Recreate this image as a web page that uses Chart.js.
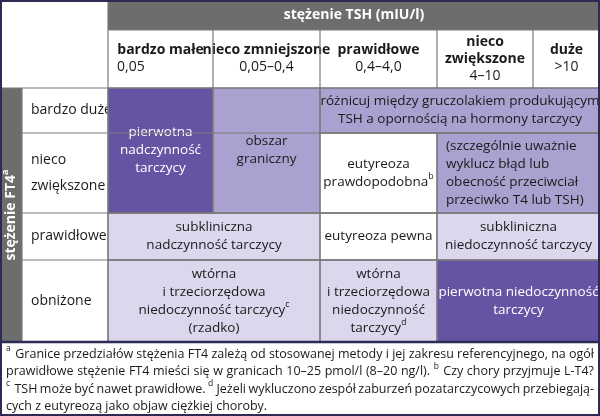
<!DOCTYPE html>
<html><head><meta charset="utf-8">
<script src="https://cdn.jsdelivr.net/npm/chart.js@4/dist/chart.umd.min.js"></script>
<style>html,body{margin:0;padding:0;background:#fff}#wrap{width:600px;height:416px}</style>
</head><body><div id="wrap"><canvas id="tbl"></canvas></div>
<script>
// dane tabeli (TSH x FT4)
const tshTitle = 'stężenie TSH (mIU/l)';
const ft4Title = 'stężenie FT4^a';
const tshCategories = [['*bardzo małe', '<0,05'], ['*nieco zmniejszone', '0,05–0,4'], ['*prawidłowe', '0,4–4,0'], ['*nieco', '*zwiększone', '4–10'], ['*duże', '>10']];
const ft4Categories = [['bardzo duże'], ['nieco', 'zwiększone'], ['prawidłowe'], ['obniżone']];
// komórki: [kol od, kol do, wiersz od, wiersz do, poziom, tekst]
const cellCols0 = [0, 1, 2, 2, 3, 0, 2, 3, 0, 2, 3];
const cellCols1 = [1, 2, 5, 3, 5, 2, 3, 5, 2, 3, 5];
const cellRows0 = [0, 0, 0, 1, 1, 2, 2, 2, 3, 3, 3];
const cellRows1 = [2, 2, 1, 2, 2, 3, 3, 3, 4, 4, 4];
const cellLevel = [3, 2, 2, 0, 2, 1, 0, 1, 1, 1, 3];
const cellText = [
  ['pierwotna', 'nadczynność', 'tarczycy'],
  ['obszar', 'graniczny'],
  ['różnicuj między gruczolakiem produkującym', 'TSH a opornością na hormony tarczycy'],
  ['eutyreoza', 'prawdopodobna^b'],
  ['<(szczególnie uważnie', '<wyklucz błąd lub', '<obecność przeciwciał', '<przeciwko T4 lub TSH)'],
  ['subkliniczna', 'nadczynność tarczycy'],
  ['eutyreoza pewna'],
  ['subkliniczna', 'niedoczynność tarczycy'],
  ['wtórna', 'i trzeciorzędowa', 'niedoczynność tarczycy^c', '(rzadko)'],
  ['wtórna', 'i trzeciorzędowa', 'niedoczynność', 'tarczycy^d'],
  ['pierwotna niedoczynność', 'tarczycy']
];
const footnotes = [
  '^a Granice przedziałów stężenia FT4 zależą od stosowanej metody i jej zakresu referencyjnego, na ogół',
  'prawidłowe stężenie FT4 mieści się w granicach 10–25 pmol/l (8–20 ng/l). ^b Czy chory przyjmuje L-T4?',
  '^c TSH może być nawet prawidłowe. ^d Jeżeli wykluczono zespół zaburzeń pozatarczycowych przebiegają-',
  'cych z eutyreozą jako objaw ciężkiej choroby.'
];

// układ (piksele w skali osi 0..600 / 0..416)
const colEdges = [108, 213, 320, 437, 533, 600];
const rowEdges = [88, 133, 213, 260, 342];
const levelFill = ['#ffffff', '#dcd7ec', '#aba1d0', '#6753a3'];
const levelInk = ['#1a1a1a', '#1a1a1a', '#1a1a1a', '#ffffff'];
const FONT = '"Liberation Sans Narrow", "Open Sans", sans-serif';

function richText(ctx, s, x, y, size, bold, align) {
  const parts = s.split(/\^(\w)/);
  const f = (sz) => (bold ? 'bold ' : '') + sz + 'px ' + FONT;
  let w = 0;
  parts.forEach((p, i) => { ctx.font = f(i % 2 ? size * 0.65 : size); w += ctx.measureText(p).width; });
  let cx = align === 'left' ? x : x - w / 2;
  ctx.textAlign = 'left';
  parts.forEach((p, i) => {
    const sup = i % 2 === 1;
    ctx.font = f(sup ? size * 0.65 : size);
    ctx.fillText(p, cx, sup ? y - size * 0.38 : y);
    cx += ctx.measureText(p).width;
  });
}

function lines(ctx, arr, x0, x1, y0, y1, size, color, lh) {
  const n = arr.length;
  const start = (y0 + y1) / 2 - (n - 1) * lh / 2;
  ctx.fillStyle = color;
  ctx.textBaseline = 'middle';
  arr.forEach((t, i) => {
    let bold = false, align = 'center', x = (x0 + x1) / 2;
    if (t[0] === '*') { bold = true; t = t.slice(1); }
    if (t[0] === '<') { align = 'left'; x = x0 + 9; t = t.slice(1); }
    richText(ctx, t, x, start + i * lh, size, bold, align);
  });
}

const tablePlugin = {
  id: 'tablePlugin',
  afterDraw(chart) {
    const ctx = chart.ctx, sx = chart.scales.x, sy = chart.scales.y;
    const X = (v) => sx.getPixelForValue(v), Y = (v) => sy.getPixelForValue(v);
    const rect = (x0, y0, x1, y1, fill) => { ctx.fillStyle = fill; ctx.fillRect(X(x0), Y(y0), X(x1) - X(x0), Y(y1) - Y(y0)); };
    const line = (x0, y0, x1, y1, c, w) => { ctx.strokeStyle = c; ctx.lineWidth = w; ctx.beginPath(); ctx.moveTo(X(x0), Y(y0)); ctx.lineTo(X(x1), Y(y1)); ctx.stroke(); };
    ctx.save();
    // nagłówki
    rect(108, 0, 600, 30, '#6d6d6d');
    lines(ctx, ['*' + tshTitle], X(108), X(600), Y(0), Y(30), 14, '#ffffff', 17);
    rect(0, 88, 22, 342, '#6d6d6d');
    ctx.save();
    ctx.translate(X(11), Y(215));
    ctx.rotate(-Math.PI / 2);
    lines(ctx, ['*' + ft4Title], -60, 60, 0, 0, 14, '#ffffff', 17);
    ctx.restore();
    tshCategories.forEach((c, i) => lines(ctx, c, X(colEdges[i]), X(colEdges[i + 1]), Y(30), Y(88), 14, '#1a1a1a', 17));
    ft4Categories.forEach((r, i) => lines(ctx, r.map(t => '<*' .slice(0, 0) + '<' + '*' + t).map(t => t.replace('<*', '<').replace(/^</, '<')), X(22), X(108), Y(rowEdges[i]), Y(rowEdges[i + 1]), 14, '#1a1a1a', 26));
    // komórki
    cellText.forEach((t, k) => {
      const x0 = colEdges[cellCols0[k]], x1 = colEdges[cellCols1[k]];
      const y0 = rowEdges[cellRows0[k]], y1 = rowEdges[cellRows1[k]];
      rect(x0, y0, x1, y1, levelFill[cellLevel[k]]);
      lines(ctx, t, X(x0), X(x1), Y(y0), Y(y1), 13.5, levelInk[cellLevel[k]], 18);
    });
    // siatka
    const g = '#7a7a7a';
    colEdges.slice(0, 5).forEach((x, i) => line(x, i ? 30 : 0, x, i ? 88 : 342, g, 1.2));
    line(22, 88, 22, 342, g, 1.2);
    line(108, 30, 600, 30, g, 1.2);
    rowEdges.forEach(y => line(y === 88 ? 0 : 22, y, 600, y, g, 1.2));
    cellText.forEach((t, k) => {
      const x0 = colEdges[cellCols0[k]], x1 = colEdges[cellCols1[k]];
      const y0 = rowEdges[cellRows0[k]], y1 = rowEdges[cellRows1[k]];
      ctx.strokeStyle = g; ctx.lineWidth = 1.2;
      ctx.strokeRect(X(x0), Y(y0), X(x1) - X(x0), Y(y1) - Y(y0));
    });
    line(0, 342, 600, 342, '#2b2b55', 2.5);
    ctx.strokeStyle = '#2b2b55'; ctx.lineWidth = 2;
    ctx.strokeRect(X(0) + 1, Y(0) + 1, X(600) - X(0) - 2, Y(416) - Y(0) - 2);
    // przypisy (wyjustowane)
    ctx.fillStyle = '#1a1a1a';
    ctx.textBaseline = 'middle';
    footnotes.forEach((f, i) => {
      const y = Y(354 + i * 17.5);
      const words = f.split(' ');
      ctx.font = '12.5px ' + FONT;
      const widths = words.map(w => { const m = w.replace(/\^\w/, ''); let ww = ctx.measureText(m).width; if (m !== w) ww += 6; return ww; });
      const total = widths.reduce((a, b) => a + b, 0);
      const avail = X(594) - X(6);
      const gap = i < footnotes.length - 1 ? (avail - total) / (words.length - 1) : ctx.measureText(' ').width;
      let cx = X(6);
      words.forEach((w, j) => {
        if (w.startsWith('^')) {
          ctx.font = '8.5px ' + FONT; ctx.fillText(w[1], cx, y - 5);
        } else {
          ctx.font = '12.5px ' + FONT; ctx.textAlign = 'left'; ctx.fillText(w, cx, y);
        }
        cx += widths[j] + gap;
      });
    });
    ctx.restore();
  }
};

new Chart(document.getElementById('tbl').getContext('2d'), {
  type: 'scatter',
  data: { datasets: [{ data: [] }] },
  options: {
    responsive: true,
    maintainAspectRatio: false,
    animation: false,
    layout: { padding: 0 },
    plugins: { legend: { display: false }, tooltip: { enabled: false } },
    scales: {
      x: { type: 'linear', min: 0, max: 600, display: false },
      y: { type: 'linear', min: 0, max: 416, reverse: true, display: false }
    }
  },
  plugins: [tablePlugin]
});
</script>
</body></html>
